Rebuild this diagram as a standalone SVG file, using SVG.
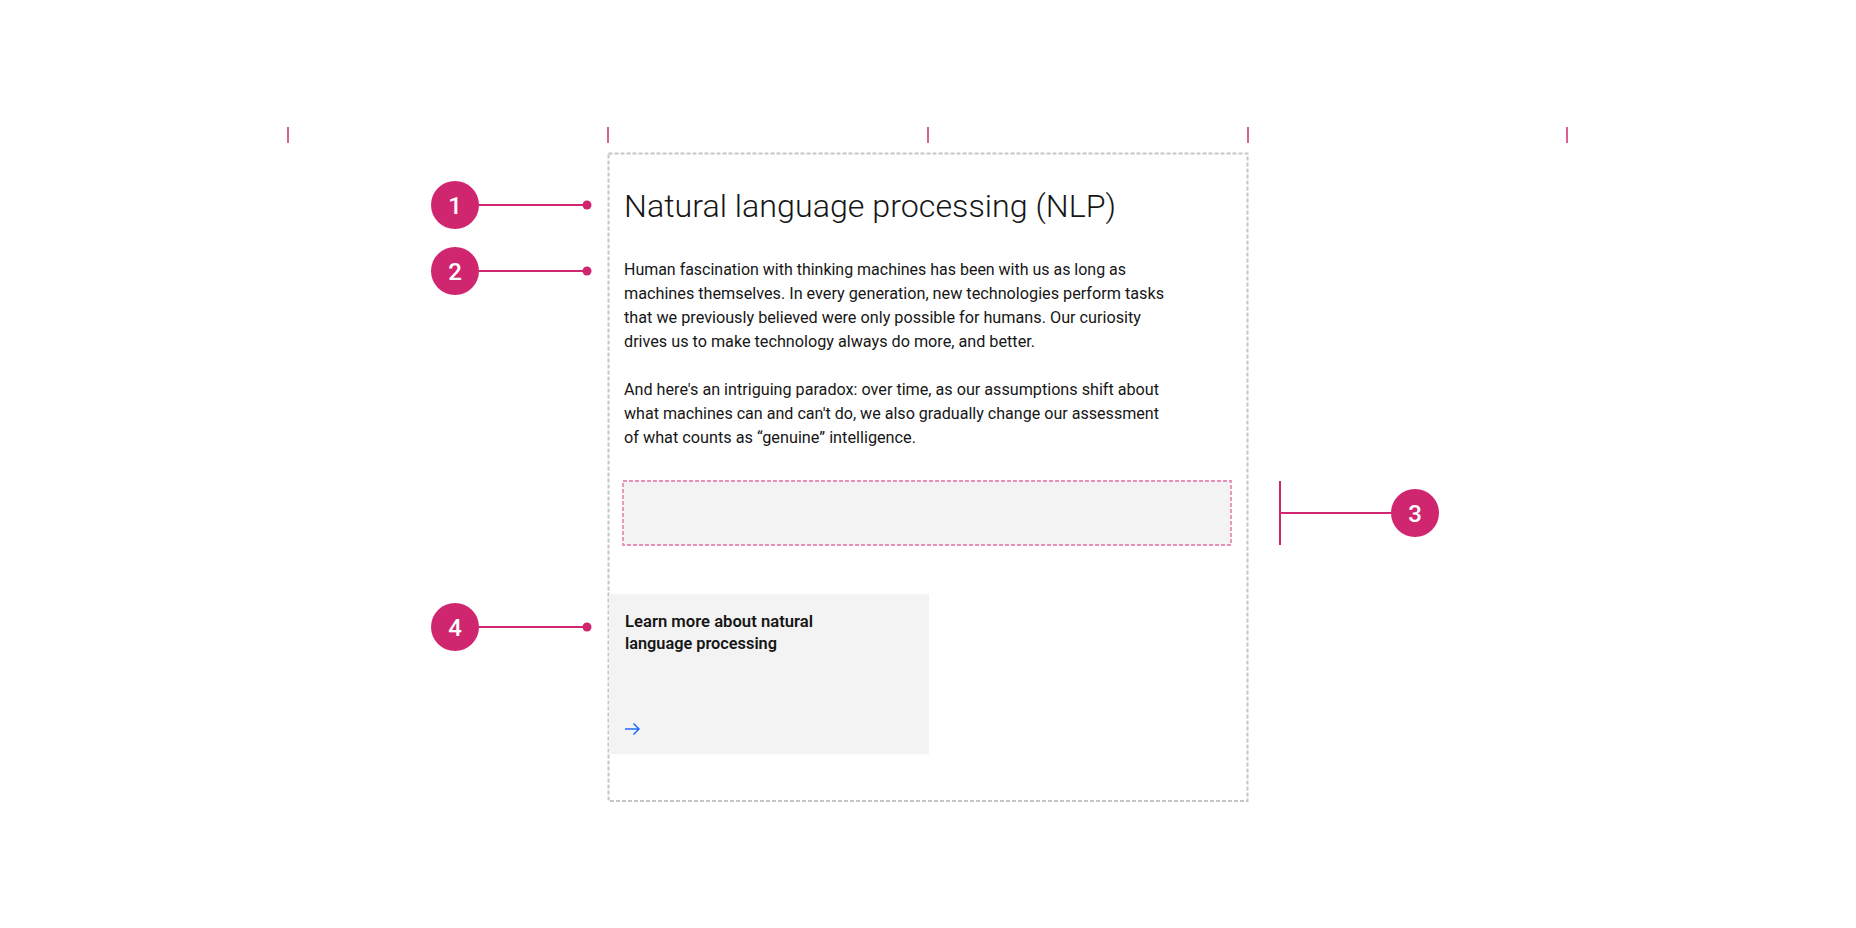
<svg xmlns="http://www.w3.org/2000/svg" width="1856" height="928" viewBox="0 0 1856 928">
  <style>
    .tick { stroke: #d02670; stroke-width: 1.5; }
    .lead { stroke: #d02670; stroke-width: 2; fill: none; }
    .dot { fill: #d02670; }
    .badge { fill: #d02670; }
    .num { fill: #ffffff; font-family: "Roboto", "Liberation Sans", sans-serif; font-weight: 500; font-size: 24px; text-anchor: middle; }
    .frame { fill: none; stroke: #c6c6c6; stroke-width: 2; stroke-dasharray: 4 2; }
    .slot { fill: #f3f3f3; stroke: #e88db5; stroke-width: 1.8; stroke-dasharray: 4 2; }
    .card { fill: #f3f3f3; }
    .title { fill: #161616; font-family: "Roboto", "Liberation Sans", sans-serif; font-weight: 300; font-size: 32px; }
    .body { fill: #161616; font-family: "Roboto", "Liberation Sans", sans-serif; font-size: 16px; }
    .cardtxt { fill: #161616; font-family: "Roboto", "Liberation Sans", sans-serif; font-weight: 600; font-size: 16px; }
    .icon { stroke: #0f62fe; stroke-width: 1.4; fill: none; }
  </style>
  <rect x="0" y="0" width="1856" height="928" fill="#ffffff"/>

  <g id="grid-ticks">
    <line class="tick" x1="288" y1="127" x2="288" y2="143"/>
    <line class="tick" x1="608" y1="127" x2="608" y2="143"/>
    <line class="tick" x1="928" y1="127" x2="928" y2="143"/>
    <line class="tick" x1="1248" y1="127" x2="1248" y2="143"/>
    <line class="tick" x1="1567" y1="127" x2="1567" y2="143"/>
  </g>

  <g id="frame">
    <rect class="frame" x="608.5" y="153.5" width="639" height="647.5"/>
  </g>

  <g id="heading">
    <text class="title" x="624" y="217" textLength="492" lengthAdjust="spacingAndGlyphs">Natural language processing (NLP)</text>
  </g>

  <g id="body-copy">
    <text class="body" x="624" y="275" textLength="502" lengthAdjust="spacingAndGlyphs">Human fascination with thinking machines has been with us as long as</text>
    <text class="body" x="624" y="299" textLength="540" lengthAdjust="spacingAndGlyphs">machines themselves. In every generation, new technologies perform tasks</text>
    <text class="body" x="624" y="323" textLength="517" lengthAdjust="spacingAndGlyphs">that we previously believed were only possible for humans. Our curiosity</text>
    <text class="body" x="624" y="347" textLength="411" lengthAdjust="spacingAndGlyphs">drives us to make technology always do more, and better.</text>
    <text class="body" x="624" y="395" textLength="535" lengthAdjust="spacingAndGlyphs">And here's an intriguing paradox: over time, as our assumptions shift about</text>
    <text class="body" x="624" y="419" textLength="535" lengthAdjust="spacingAndGlyphs">what machines can and can't do, we also gradually change our assessment</text>
    <text class="body" x="624" y="443" textLength="292" lengthAdjust="spacingAndGlyphs">of what counts as “genuine” intelligence.</text>
  </g>

  <g id="slot">
    <rect class="slot" x="623" y="481" width="608" height="64"/>
  </g>

  <g id="card">
    <rect class="card" x="609" y="594" width="320" height="160"/>
    <text class="cardtxt" x="625" y="627" textLength="188" lengthAdjust="spacingAndGlyphs">Learn more about natural</text>
    <text class="cardtxt" x="625" y="649" textLength="152" lengthAdjust="spacingAndGlyphs">language processing</text>
    <g class="icon">
      <line x1="625" y1="729" x2="639" y2="729"/>
      <polyline points="633.5,723.5 639,729 633.5,734.5"/>
    </g>
  </g>

  <g id="connectors">
    <line class="lead" x1="479" y1="205" x2="587" y2="205"/>
    <circle class="dot" cx="587" cy="205" r="4.5"/>
    <line class="lead" x1="479" y1="271" x2="587" y2="271"/>
    <circle class="dot" cx="587" cy="271" r="4.5"/>
    <line class="lead" x1="1280" y1="481" x2="1280" y2="545"/>
    <line class="lead" x1="1280" y1="513" x2="1391" y2="513"/>
    <line class="lead" x1="479" y1="627" x2="587" y2="627"/>
    <circle class="dot" cx="587" cy="627" r="4.5"/>
  </g>

  <g id="callout-1">
    <circle class="badge" cx="455" cy="205" r="24"/>
    <text class="num" x="455" y="214">1</text>
  </g>
  <g id="callout-2">
    <circle class="badge" cx="455" cy="271" r="24"/>
    <text class="num" x="455" y="280">2</text>
  </g>
  <g id="callout-3">
    <circle class="badge" cx="1415" cy="513" r="24"/>
    <text class="num" x="1415" y="522">3</text>
  </g>
  <g id="callout-4">
    <circle class="badge" cx="455" cy="627" r="24"/>
    <text class="num" x="455" y="636">4</text>
  </g>
</svg>
